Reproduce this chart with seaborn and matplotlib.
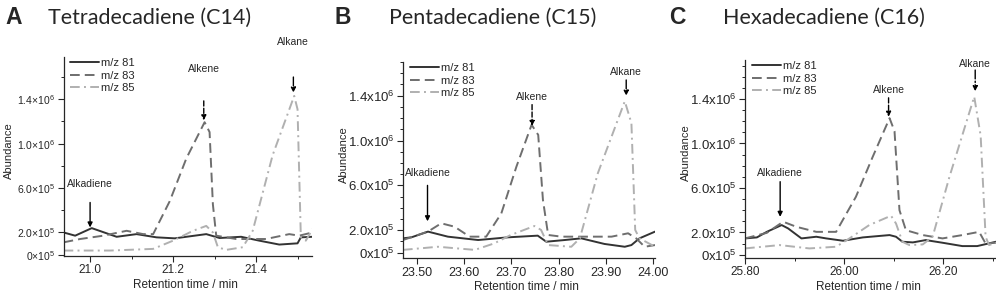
import matplotlib
matplotlib.use("Agg")
import matplotlib.pyplot as plt
import matplotlib.ticker as mticker
import pandas as pd
import seaborn as sns

IONS = ["m/z 81", "m/z 83", "m/z 85"]
PANEL_LETTERS = ["A", "B", "C"]
PANEL_TITLES = ["Tetradecadiene (C14)", "Pentadecadiene (C15)", "Hexadecadiene (C16)"]

# abundances are in units of 1e5 counts
A_T81 = [20.936, 20.964, 21.004, 21.064, 21.112, 21.160, 21.204, 21.280, 21.312, 21.364, 21.408, 21.456, 21.500, 21.508, 21.536]
A_Y81 = [2.00, 1.71, 2.39, 1.61, 1.85, 1.56, 1.47, 1.85, 1.50, 1.61, 1.26, 0.91, 1.02, 1.56, 1.61]
A_T83 = [20.936, 20.976, 21.032, 21.088, 21.128, 21.152, 21.192, 21.232, 21.276, 21.288, 21.296, 21.304, 21.352, 21.424, 21.480, 21.504, 21.536]
A_Y83 = [1.11, 1.41, 1.71, 2.15, 1.85, 1.85, 4.82, 8.67, 11.93, 11.04, 4.52, 1.71, 1.41, 1.41, 1.85, 1.71, 2.00]
A_T85 = [20.936, 21.048, 21.152, 21.200, 21.248, 21.280, 21.296, 21.308, 21.328, 21.368, 21.392, 21.440, 21.492, 21.500, 21.508, 21.520, 21.536]
A_Y85 = [0.37, 0.37, 0.52, 1.26, 2.15, 2.59, 2.00, 0.67, 0.43, 0.67, 2.15, 8.96, 14.30, 13.10, 1.56, 1.26, 2.30]

B_T81 = [23.471, 23.489, 23.524, 23.566, 23.630, 23.693, 23.756, 23.774, 23.813, 23.848, 23.897, 23.940, 23.954, 23.971, 24.004]
B_Y81 = [1.28, 1.37, 1.88, 1.43, 1.13, 1.37, 1.52, 0.98, 1.13, 1.28, 0.78, 0.53, 0.68, 1.28, 1.88]
B_T83 = [23.471, 23.524, 23.552, 23.580, 23.612, 23.647, 23.679, 23.711, 23.743, 23.757, 23.767, 23.778, 23.806, 23.855, 23.912, 23.947, 23.964, 23.982, 24.004]
B_Y83 = [1.13, 1.88, 2.62, 2.32, 1.43, 1.43, 3.50, 7.68, 11.40, 10.50, 4.70, 1.58, 1.43, 1.43, 1.43, 1.73, 1.28, 0.53, 0.68]
B_T85 = [23.471, 23.545, 23.623, 23.664, 23.699, 23.749, 23.763, 23.778, 23.827, 23.845, 23.883, 23.940, 23.954, 23.962, 23.971, 24.004]
B_Y85 = [0.25, 0.53, 0.25, 0.83, 1.58, 2.38, 2.03, 0.68, 0.53, 1.28, 7.08, 13.50, 11.55, 2.03, 1.28, 0.53]

C_T81 = [25.800, 25.824, 25.844, 25.874, 25.887, 25.914, 25.944, 25.964, 25.998, 26.038, 26.092, 26.105, 26.118, 26.139, 26.165, 26.199, 26.239, 26.269, 26.307]
C_Y81 = [1.46, 1.55, 2.05, 2.66, 2.36, 1.46, 1.61, 1.46, 1.25, 1.55, 1.76, 1.61, 1.16, 1.10, 1.31, 1.07, 0.77, 0.77, 1.16]
C_T83 = [25.800, 25.844, 25.877, 25.904, 25.944, 25.984, 26.024, 26.058, 26.092, 26.102, 26.112, 26.125, 26.159, 26.199, 26.239, 26.273, 26.286, 26.307]
C_Y83 = [1.46, 1.96, 2.96, 2.50, 2.05, 2.05, 5.20, 8.80, 12.27, 11.10, 4.00, 2.20, 1.76, 1.46, 1.76, 2.05, 1.00, 1.07]
C_T85 = [25.800, 25.870, 25.930, 25.984, 26.011, 26.051, 26.095, 26.105, 26.118, 26.132, 26.159, 26.179, 26.213, 26.263, 26.276, 26.286, 26.293, 26.307]
C_Y85 = [0.56, 0.86, 0.56, 0.71, 1.46, 2.66, 3.50, 2.80, 1.16, 0.86, 0.92, 1.61, 7.00, 14.20, 10.70, 1.60, 0.86, 1.07]

X_TICKS = [[21.0, 21.2, 21.4], [23.50, 23.60, 23.70, 23.80, 23.90, 24.00], [25.80, 26.00, 26.20]]
X_TICK_LABELS = [["21.0", "21.2", "21.4"],
                 ["23.50", "23.60", "23.70", "23.80", "23.90", "24.00"],
                 ["25.80", "26.00", "26.20"]]
Y_TICKS = [0, 2e5, 6e5, 1e6, 1.4e6]
Y_TICK_LABELS_A = [r"0×10$^{5}$", r"2.0×10$^{5}$", r"6.0×10$^{5}$", r"1.0×10$^{6}$", r"1.4×10$^{6}$"]
Y_TICK_LABELS_BC = [r"0x10$^{5}$", r"2.0x10$^{5}$", r"6.0x10$^{5}$", r"1.0x10$^{6}$", r"1.4x10$^{6}$"]

# (label, text x, text y, arrow tail y, arrow tip y, linestyle)  y in 1e5
PEAK_NOTES = [
    [("Alkadiene", 21.000, 6.4, 4.7, 2.45, "-"),
     ("Alkene", 21.274, 16.7, 13.85, 12.1, "--"),
     ("Alkane", 21.490, 19.2, 16.0, 14.6, "-.")],
    [("Alkadiene", 23.523, 7.1, 6.0, 2.8, "-"),
     ("Alkene", 23.744, 13.9, 13.2, 11.3, "--"),
     ("Alkane", 23.943, 16.1, 15.4, 14.0, "-.")],
    [("Alkadiene", 25.871, 7.3, 6.56, 3.4, "-"),
     ("Alkene", 26.090, 14.8, 14.1, 12.4, "--"),
     ("Alkane", 26.265, 17.1, 16.6, 14.7, "-.")],
]


def set_style() -> None:
    sns.set_theme(style="ticks")
    plt.rcParams.update({
        "font.family": ["Liberation Sans", "DejaVu Sans"],
        "mathtext.default": "regular",
        "axes.linewidth": 0.9,
        "xtick.direction": "out",
        "ytick.direction": "out",
    })


def long_table(series) -> pd.DataFrame:
    frames = []
    for ion, (t, y) in zip(IONS, series):
        frames.append(pd.DataFrame({"time": t, "abundance": [v * 1e5 for v in y], "ion": ion}))
    return pd.concat(frames, ignore_index=True)


def draw_panel(ax, df, idx, xlim, ylim, ytick_fs, xtick_fs, y_minor):
    sns.lineplot(
        data=df, x="time", y="abundance", hue="ion", style="ion",
        palette={"m/z 81": "#333333", "m/z 83": "#6e6e6e", "m/z 85": "#b0b0b0"},
        dashes={"m/z 81": "", "m/z 83": (5, 2.6), "m/z 85": (5, 2.2, 1, 2.2)},
        estimator=None, sort=False, linewidth=1.4, ax=ax,
    )
    ax.set_xlim(*xlim)
    ax.set_ylim(*ylim)
    ax.xaxis.set_major_locator(mticker.FixedLocator(X_TICKS[idx]))
    ax.xaxis.set_major_formatter(mticker.FixedFormatter(X_TICK_LABELS[idx]))
    if idx != 1:
        ax.xaxis.set_minor_locator(mticker.MultipleLocator(0.1))
    ax.yaxis.set_major_locator(mticker.FixedLocator(Y_TICKS))
    ax.yaxis.set_major_formatter(mticker.FixedFormatter(Y_TICK_LABELS_A if idx == 0 else Y_TICK_LABELS_BC))
    ax.yaxis.set_minor_locator(mticker.MultipleLocator(y_minor))
    ax.tick_params(axis="y", which="major", labelsize=ytick_fs, length=4, width=0.8, pad=2)
    ax.tick_params(axis="x", which="major", labelsize=xtick_fs, length=4, width=0.8, pad=2)
    ax.tick_params(which="minor", length=2.5, width=0.7)
    ax.set_xlabel("Retention time / min", fontsize=8.5)
    ax.set_ylabel("Abundance", fontsize=8)
    ax.xaxis.set_label_coords(0.49, -0.118)
    ax.yaxis.set_label_coords(-0.2 if idx == 0 else -0.215, 0.53)
    sns.despine(ax=ax)

    sns.move_legend(ax, "upper left", bbox_to_anchor=(0.0, 1.03), title=None, frameon=False,
                    fontsize=8, handlelength=2.6, handletextpad=0.2, labelspacing=0.25,
                    borderaxespad=0.2)

    for label, tx, ty, tail, tip, ls in PEAK_NOTES[idx]:
        ax.text(tx, ty * 1e5, label, ha="center", va="center", fontsize=7.5, clip_on=False)
        ax.annotate("", xy=(tx, tip * 1e5), xytext=(tx, tail * 1e5),
                    arrowprops=dict(arrowstyle="-|>", color="black", lw=1.0, ls=ls,
                                    mutation_scale=7, shrinkA=0, shrinkB=0),
                    annotation_clip=False)


def build_figure() -> plt.Figure:
    fig = plt.figure(figsize=(9.96, 2.93), dpi=100)
    boxes = [[0.0638, 0.1263, 0.2495, 0.679],
             [0.405, 0.1184, 0.2527, 0.670],
             [0.748, 0.1195, 0.252, 0.6757]]
    xlims = [(20.936, 21.535), (23.472, 24.004), (25.80, 26.307)]
    ylims = [(-0.012e6, 1.78e6), (-0.05e6, 1.70e6), (-0.03e6, 1.75e6)]
    series = [
        [(A_T81, A_Y81), (A_T83, A_Y83), (A_T85, A_Y85)],
        [(B_T81, B_Y81), (B_T83, B_Y83), (B_T85, B_Y85)],
        [(C_T81, C_Y81), (C_T83, C_Y83), (C_T85, C_Y85)],
    ]
    letter_x = [0.005, 0.336, 0.672]
    title_x = [0.048, 0.391, 0.726]
    ytick_fs = [7.5, 9.5, 9.5]
    xtick_fs = [8.5, 9, 8.5]
    y_minor = [2e5, 1e5, 1e5]

    for i in range(3):
        ax = fig.add_axes(boxes[i])
        draw_panel(ax, long_table(series[i]), i, xlims[i], ylims[i], ytick_fs[i], xtick_fs[i], y_minor[i])
        fig.text(letter_x[i], 0.94, PANEL_LETTERS[i], fontsize=16.5, fontweight="bold", va="center")
        fig.text(title_x[i], 0.94, PANEL_TITLES[i], fontsize=15.5, va="center", family=["Lato", "DejaVu Sans"])
    return fig


def main() -> None:
    set_style()
    fig = build_figure()
    fig.savefig("out.png", dpi=100, facecolor="white")


if __name__ == "__main__":
    main()
